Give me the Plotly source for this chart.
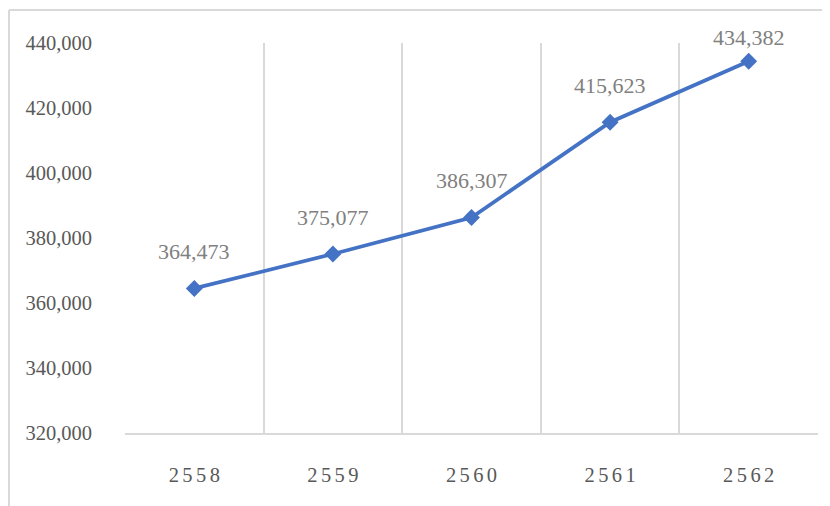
import plotly.graph_objects as go

years = ["2558", "2559", "2560", "2561", "2562"]
values = [364473, 375077, 386307, 415623, 434382]
y_ticks = [320000, 340000, 360000, 380000, 400000, 420000, 440000]

# the page body adds an 8px margin, so the figure is a bit smaller than the window
W, H = 822, 498
ML, MR, MT, MB = 117, 12, 35, 73
Y0, Y1 = 320000, 440000

# Excel-style spaced digits on the category axis
spaced = ["\u2006".join(y) for y in years]

fig = go.Figure()
fig.add_trace(go.Scatter(
    x=spaced,
    y=values,
    mode="lines+markers",
    line=dict(color="#4472C4", width=3.8),
    marker=dict(symbol="diamond", size=13, color="#4472C4"),
    cliponaxis=False,
    showlegend=False,
))

pw = W - ML - MR
ph = H - MT - MB

# data labels above the points, kept inside the chart frame like Excel does
for x, v in zip(spaced, values):
    top_px = MT + (Y1 - v) / (Y1 - Y0) * ph
    shift = min(37, top_px - 29)
    fig.add_annotation(x=x, y=v, text=f"{v:,}", showarrow=False,
                       yshift=shift, yanchor="middle",
                       font=dict(family="Liberation Serif", size=22, color="#808080"))

# chart border (only top and left visible in the crop)
bx = (1 - ML) / pw
by = 1 + (MT - 2) / ph
fig.add_shape(type="line", xref="paper", yref="paper", x0=bx, x1=1 + MR / pw + 0.01,
              y0=by, y1=by, line=dict(color="#d9d9d9", width=2))
fig.add_shape(type="line", xref="paper", yref="paper", x0=bx, x1=bx,
              y0=by, y1=-MB / ph - 0.01, line=dict(color="#d9d9d9", width=2))

fig.update_layout(
    width=W, height=H,
    margin=dict(l=ML, r=MR, t=MT, b=MB, autoexpand=False),
    plot_bgcolor="white",
    paper_bgcolor="white",
    font=dict(family="Liberation Serif", color="#595959"),
    xaxis=dict(
        type="category",
        range=[-0.5, 4.5],
        tickson="boundaries",
        showgrid=True,
        gridcolor="#d9d9d9",
        gridwidth=1.5,
        showline=True,
        linecolor="#d9d9d9",
        linewidth=1.5,
        ticks="",
        tickfont=dict(size=20.5, color="#595959"),
        ticklabelstandoff=23,
        zeroline=False,
        automargin=False,
    ),
    yaxis=dict(
        range=[Y0, Y1],
        tickvals=y_ticks,
        ticktext=[f"{v:,}" for v in y_ticks],
        showgrid=False,
        zeroline=False,
        showline=False,
        ticks="",
        tickfont=dict(size=20.5, color="#595959"),
        ticklabelstandoff=32,
        automargin=False,
    ),
)

fig.write_html("out.html")
